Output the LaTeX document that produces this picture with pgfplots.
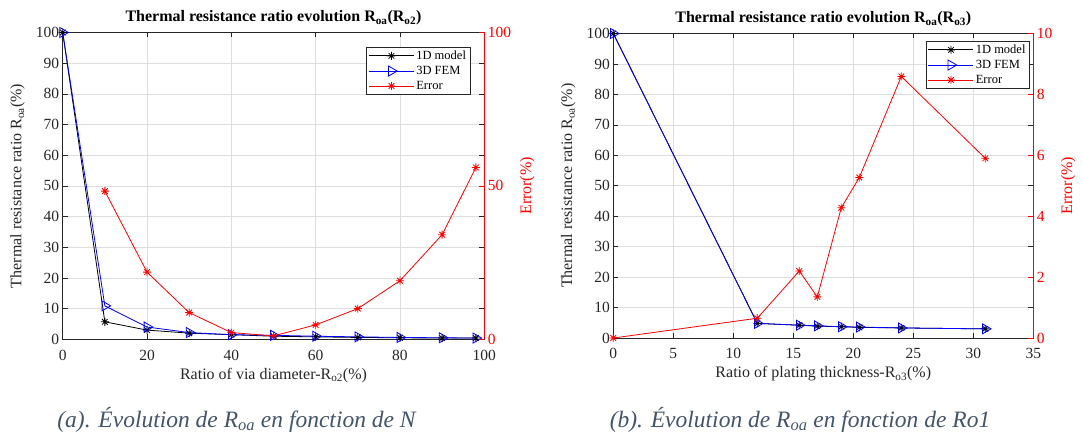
\documentclass[border=0pt]{standalone}
\usepackage{pgfplots}
\pgfplotsset{compat=1.18}
\usepackage{fontspec}
\setmainfont{Liberation Serif}
\definecolor{capc}{HTML}{44546A}
\definecolor{mred}{rgb}{1,0,0}
\definecolor{mblue}{rgb}{0,0,1}
\definecolor{mtext}{HTML}{262626}
\pgfdeclareplotmark{mstar}{%
 \pgfpathmoveto{\pgfqpoint{-\pgfplotmarksize}{0pt}}\pgfpathlineto{\pgfqpoint{\pgfplotmarksize}{0pt}}%
 \pgfpathmoveto{\pgfqpoint{0pt}{-\pgfplotmarksize}}\pgfpathlineto{\pgfqpoint{0pt}{\pgfplotmarksize}}%
 \pgfpathmoveto{\pgfqpoint{-.7071\pgfplotmarksize}{-.7071\pgfplotmarksize}}\pgfpathlineto{\pgfqpoint{.7071\pgfplotmarksize}{.7071\pgfplotmarksize}}%
 \pgfpathmoveto{\pgfqpoint{-.7071\pgfplotmarksize}{.7071\pgfplotmarksize}}\pgfpathlineto{\pgfqpoint{.7071\pgfplotmarksize}{-.7071\pgfplotmarksize}}%
 \pgfusepathqstroke}
\pgfplotsset{
 base/.style={scale only axis, anchor=south west, ymin=0, ymax=100,
  ytick={0,10,...,100}, tick align=inside, major tick length=5pt,
  /pgf/number format/assume math mode=true,
  tick style={mtext, line width=0.5pt}, axis line style={mtext, line width=0.5pt},
  ticklabel style={font=\fontsize{15.5}{15.5}\selectfont, text=mtext},
  label style={font=\fontsize{16}{16}\selectfont, text=mtext},
  title style={font=\fontsize{16}{16}\selectfont\bfseries, text=black, at={(0.5,1)}, anchor=base, yshift=5pt},
  grid=major, major grid style={black!13, line width=0.6pt},
  xticklabel style={yshift=-7pt},
  xlabel style={at={(axis description cs:0.5,0)}, anchor=base, yshift=-40pt},
 },
 errax/.style={scale only axis, anchor=south west, axis y line*=right, axis x line=none,
  ymin=0, tick align=inside, major tick length=5pt,
  /pgf/number format/assume math mode=true,
  tick style={mred, line width=0.5pt}, axis line style={mred, line width=0.8pt},
  ticklabel style={font=\fontsize{15.5}{15.5}\selectfont, text=mred},
  label style={font=\fontsize{16}{16}\selectfont, text=mred},
  legend style={font=\fontsize{12.5}{12.5}\selectfont, draw=mtext, fill=white, line width=0.6pt,
   inner xsep=2pt, inner ysep=1.5pt, row sep=1.2pt, cells={anchor=west}},
  legend image code/.code={\draw[mark repeat=2,mark phase=2] plot coordinates {(0pt,0pt) (22.5pt,0pt) (45pt,0pt)};},
 },
 s1d/.style={black, line width=0.8pt, mark=mstar, mark size=4pt, mark options={line width=0.8pt}},
 s3d/.style={mblue, line width=0.8pt, mark=triangle, mark size=5.8pt, mark options={rotate=-90, line width=0.8pt}},
 serr/.style={mred, line width=0.8pt, mark=mstar, mark size=4pt, mark options={line width=0.8pt}},
}
\begin{document}
\begin{tikzpicture}
\path[use as bounding box] (0,0) rectangle (1082pt,434pt);
% ---------- left ----------
\begin{axis}[base, at={(62.7pt,94.7pt)}, width=421.6pt, height=306.8pt,
  xmin=0, xmax=100, xtick={0,20,...,100},
  title={Thermal resistance ratio evolution R\textsubscript{oa}(R\textsubscript{o2})},
  xlabel={Ratio of via diameter-R\textsubscript{o2}(\%)},
  ylabel={Thermal resistance ratio R\textsubscript{oa}(\%)},
  ylabel style={at={(axis description cs:-0.107,0.5)}, anchor=center}]
\addplot[s1d] coordinates {(0,100)(10,5.7)(20,3.0)(30,2.0)(40,1.5)(50,1.0)(60,0.8)(70,0.6)(80,0.5)(90,0.4)(98,0.4)};
\addplot[s3d] coordinates {(0,100)(10,10.9)(20,4.0)(30,2.2)(40,1.5)(50,1.3)(60,1.0)(70,0.8)(80,0.6)(90,0.5)(98,0.4)};
\end{axis}
\begin{axis}[errax, at={(62.7pt,94.7pt)}, width=421.6pt, height=306.8pt,
  xmin=0, xmax=100, ymax=100, ytick={0,50,100},
  ylabel={Error(\%)}, ylabel style={at={(axis description cs:1.102,0.5)}, anchor=center},
  legend style={at={(axis description cs:1,1)}, anchor=north east, xshift=-14pt, yshift=-14.5pt}]
\addlegendimage{s1d}\addlegendentry{1D model}
\addlegendimage{s3d}\addlegendentry{3D FEM}
\addplot[serr] coordinates {(10,48.3)(20,21.9)(30,8.7)(40,2.2)(50,1.1)(60,4.7)(70,10)(80,19.1)(90,34.1)(98,56)};
\addlegendentry{Error}
\end{axis}
% ---------- right ----------
\begin{axis}[base, at={(613.3pt,96pt)}, width=420pt, height=304.5pt,
  xmin=0, xmax=35, xtick={0,5,...,35},
  title={Thermal resistance ratio evolution R\textsubscript{oa}(R\textsubscript{o3})},
  xlabel={Ratio of plating thickness-R\textsubscript{o3}(\%)},
  ylabel={Thermal resistance ratio R\textsubscript{oa}(\%)},
  ylabel style={at={(axis description cs:-0.107,0.5)}, anchor=center}]
\addplot[s1d] coordinates {(0,100)(12,4.8)(15.5,4.2)(17,3.9)(19,3.7)(20.5,3.5)(24,3.3)(31,3.0)};
\addplot[s3d] coordinates {(0,100)(12,4.8)(15.5,4.2)(17,4.0)(19,3.7)(20.5,3.6)(24,3.3)(31,3.0)};
\end{axis}
\begin{axis}[errax, at={(613.3pt,96pt)}, width=420pt, height=304.5pt,
  xmin=0, xmax=35, ymax=10, ytick={0,2,...,10},
  ylabel={Error(\%)}, ylabel style={at={(axis description cs:1.083,0.5)}, anchor=center},
  legend style={at={(axis description cs:1,1)}, anchor=north east, xshift=-3.5pt, yshift=-7.5pt}]
\addlegendimage{s1d}\addlegendentry{1D model}
\addlegendimage{s3d}\addlegendentry{3D FEM}
\addplot[serr] coordinates {(0,0)(12,0.65)(15.5,2.2)(17,1.35)(19,4.28)(20.5,5.27)(24,8.59)(31,5.9)};
\addlegendentry{Error}
\end{axis}
% ---------- captions ----------
\node[anchor=base, text=capc, font=\fontsize{23.5}{23.5}\selectfont\itshape] at (236.5pt,7pt) {(a). Évolution de R\textsubscript{oa} en fonction de N};
\node[anchor=base, text=capc, font=\fontsize{23.5}{23.5}\selectfont\itshape] at (800pt,7pt) {(b). Évolution de R\textsubscript{oa} en fonction de Ro1};
\end{tikzpicture}
\end{document}
